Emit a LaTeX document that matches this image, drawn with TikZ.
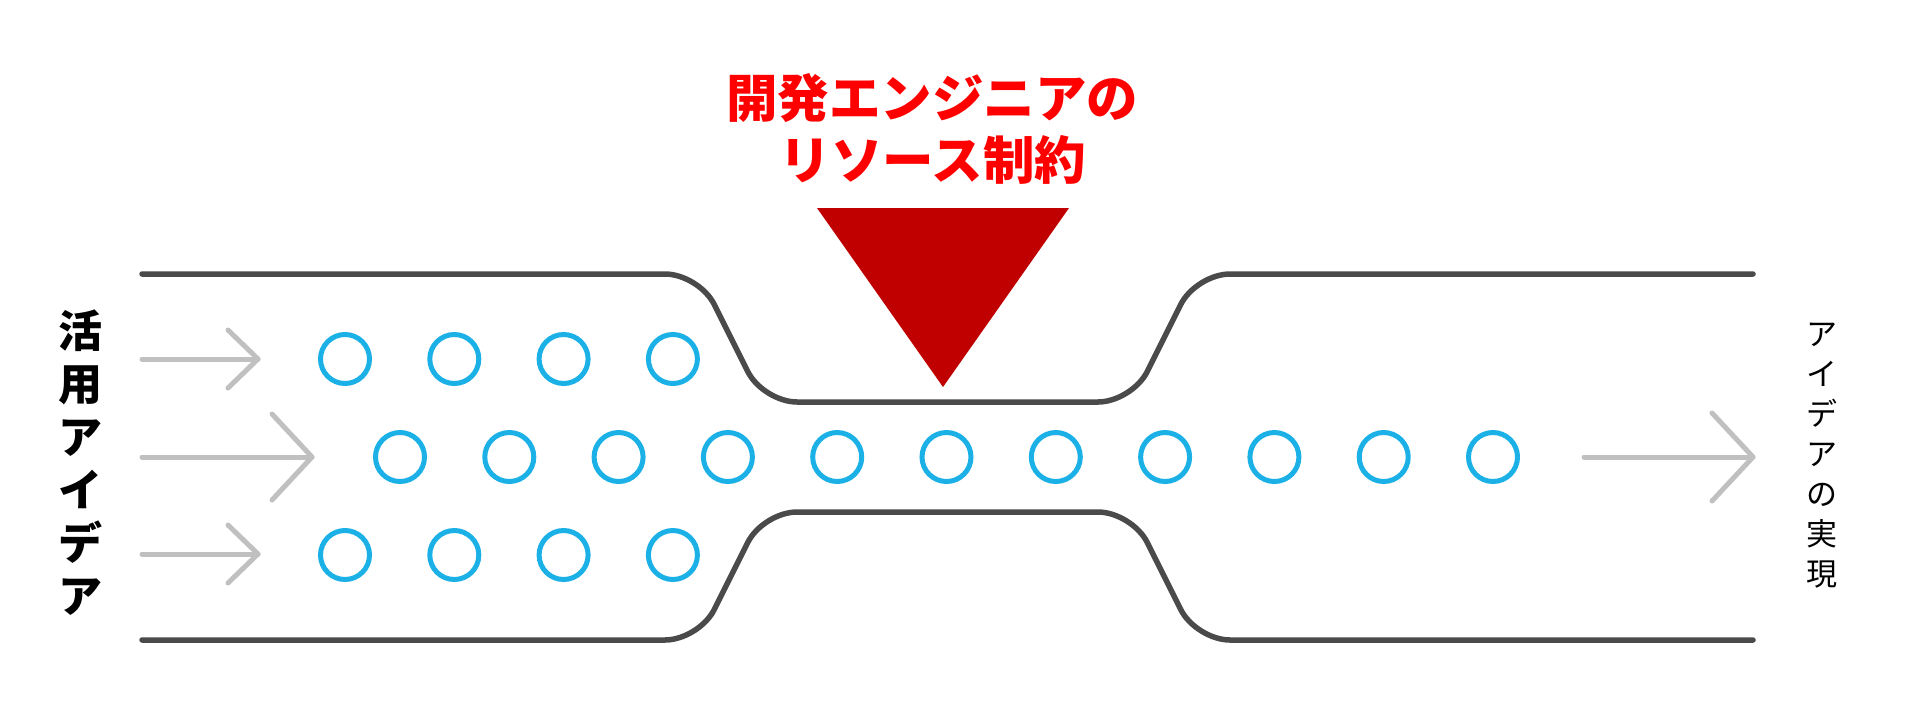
\documentclass[tikz,border=0pt]{standalone}
\usepackage{fontspec}
\newfontfamily\jp{Noto Sans CJK JP}
\definecolor{pipe}{HTML}{4A4A4A}
\definecolor{flow}{HTML}{C0C0C0}
\definecolor{idea}{HTML}{1BB1E7}
\definecolor{tri}{HTML}{C00000}
\definecolor{redtxt}{HTML}{FF0000}
\tikzset{
  pipeline/.style={draw=pipe, line width=5.5pt, line cap=round, line join=round, rounded corners=34pt},
  flowline/.style={draw=flow, line width=5pt, line cap=round, line join=round},
  ideacircle/.style={draw=idea, line width=5pt},
  titletext/.style={text=redtxt, inner sep=0pt, font=\jp\bfseries\fontsize{51.5}{60}\selectfont},
}
\begin{document}
\begin{tikzpicture}[x=1pt,y=-1pt]
\useasboundingbox (0,0) rectangle (1920,713);
% pipe walls
\draw[pipeline] (142,274) -- (699,274) -- (763,402) -- (1132,402) -- (1196,274) -- (1753,274);
\draw[pipeline] (142,640) -- (699,640) -- (763,512) -- (1132,512) -- (1196,640) -- (1753,640);
% constraint triangle
\fill[tri] (817,208) -- (1069,208) -- (943,387) -- cycle;
% title
\node[titletext] (t1) at (932,98.5) {開発エンジニアの};
\node[titletext] (t2) at (933,160) {リソース制約};
% labels
\node[inner sep=0pt, align=center, font=\jp\bfseries\fontsize{44}{53}\selectfont] (inlbl) at (80,462.5) {活\\用\\ア\\イ\\デ\\ア};
\node[inner sep=0pt, align=center, font=\jp\fontsize{31}{40}\selectfont] (outlbl) at (1822,455.5) {ア\\イ\\デ\\ア\\の\\実\\現};
% input arrows
\coordinate (a1s) at (142,359); \coordinate (a1e) at (258,359);
\coordinate (a2s) at (142,457); \coordinate (a2e) at (312,457);
\coordinate (a3s) at (142,554); \coordinate (a3e) at (258,554);
\coordinate (a4s) at (1584,457); \coordinate (a4e) at (1753,457);
\draw[flowline] (a1s) -- (a1e);
\draw[flowline] ([shift={(-30,-29)}]a1e) -- (a1e) -- ([shift={(-30,29)}]a1e);
\draw[flowline] (a2s) -- (a2e);
\draw[flowline] ([shift={(-40,-43)}]a2e) -- (a2e) -- ([shift={(-40,43)}]a2e);
\draw[flowline] (a3s) -- (a3e);
\draw[flowline] ([shift={(-30,-29)}]a3e) -- (a3e) -- ([shift={(-30,29)}]a3e);
\draw[flowline] (a4s) -- (a4e);
\draw[flowline] ([shift={(-41,-44)}]a4e) -- (a4e) -- ([shift={(-41,44)}]a4e);
% ideas
\foreach \k in {0,...,3} {
  \draw[ideacircle] (345+109.3*\k,359) circle (24.5);
  \draw[ideacircle] (345+109.3*\k,555) circle (24.5);
}
\foreach \k in {0,...,10} {
  \draw[ideacircle] (400+109.3*\k,457) circle (24.5);
}
\end{tikzpicture}
\end{document}
